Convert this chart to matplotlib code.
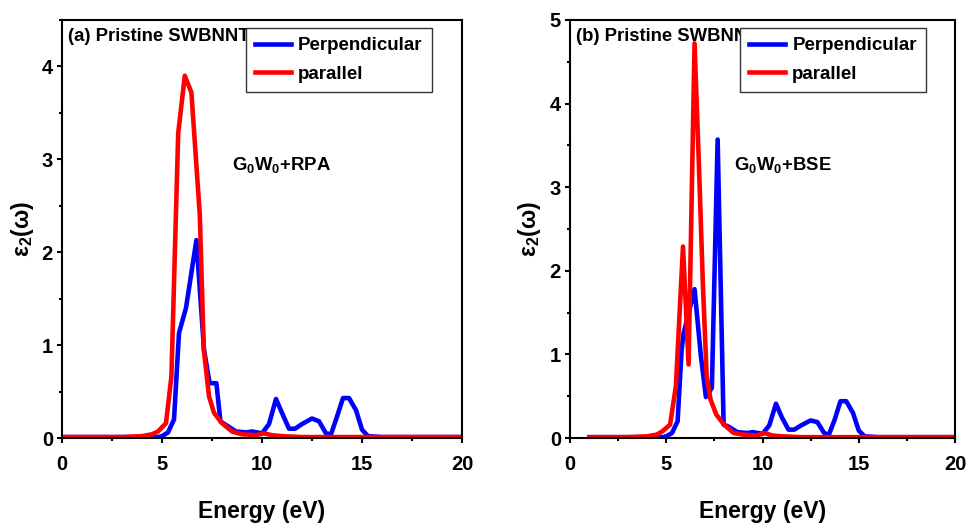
import matplotlib
matplotlib.use('Agg')
import matplotlib.pyplot as plt
from matplotlib.ticker import MultipleLocator

plt.rcParams['font.family'] = ['Liberation Sans', 'DejaVu Sans']
plt.rcParams['font.weight'] = 'bold'

# (a) G0W0+RPA
rpa_perp_e = [0, 2, 4, 4.8, 5.0, 5.3, 5.6, 5.85, 6.2, 6.72, 7.1, 7.38, 7.72, 7.92, 8.2, 8.7,
              9.2, 9.5, 10.0, 10.35, 10.7, 11.0, 11.35, 11.65, 12.0, 12.5, 12.85, 13.2,
              13.45, 13.75, 14.05, 14.35, 14.7, 15.0, 15.3, 16, 20]
rpa_perp = [0.01, 0.01, 0.01, 0.01, 0.02, 0.06, 0.2, 1.13, 1.4, 2.13, 0.95, 0.59, 0.59, 0.18,
            0.14, 0.07, 0.06, 0.07, 0.05, 0.15, 0.42, 0.27, 0.1, 0.1, 0.15, 0.21, 0.18, 0.05,
            0.04, 0.23, 0.43, 0.43, 0.3, 0.09, 0.02, 0.01, 0.01]
rpa_par_e = [0, 3, 4, 4.5, 4.8, 5.2, 5.47, 5.81, 6.14, 6.47, 6.89, 7.09, 7.35, 7.6, 8.0, 8.5,
             9.0, 9.7, 10.1, 10.5, 11, 12, 20]
rpa_par = [0.01, 0.01, 0.02, 0.04, 0.07, 0.16, 0.66, 3.28, 3.9, 3.72, 2.4, 0.95, 0.45, 0.27,
           0.16, 0.07, 0.04, 0.03, 0.05, 0.03, 0.02, 0.01, 0.01]

# (b) G0W0+BSE
bse_perp_e = [1.0, 3, 4.8, 5.0, 5.3, 5.59, 5.8, 5.9, 6.47, 6.8, 7.06, 7.37, 7.67, 7.98, 8.2,
              8.7, 9.2, 9.5, 10.0, 10.35, 10.7, 11.0, 11.35, 11.65, 12.0, 12.5, 12.85, 13.2,
              13.45, 13.75, 14.05, 14.35, 14.7, 15.0, 15.3, 16, 20]
bse_perp = [0.01, 0.01, 0.01, 0.02, 0.06, 0.2, 1.06, 1.25, 1.78, 0.98, 0.49, 0.6, 3.57, 0.16,
            0.14, 0.07, 0.06, 0.07, 0.05, 0.15, 0.41, 0.25, 0.1, 0.1, 0.15, 0.21, 0.19, 0.06,
            0.04, 0.22, 0.44, 0.44, 0.3, 0.09, 0.02, 0.01, 0.01]
bse_par_e = [1.0, 3, 4, 4.5, 4.8, 5.2, 5.5, 5.87, 6.16, 6.47, 6.7, 6.9, 7.1, 7.3, 7.6, 8.0,
             8.5, 9.0, 9.7, 10.1, 10.5, 11, 12, 20]
bse_par = [0.01, 0.01, 0.02, 0.04, 0.08, 0.16, 0.62, 2.29, 0.88, 4.72, 3.25, 1.86, 0.74, 0.46,
           0.28, 0.16, 0.06, 0.04, 0.03, 0.06, 0.03, 0.02, 0.01, 0.01]

W, H = 968, 523
fig = plt.figure(figsize=(W / 100, H / 100), dpi=100)


def make_panel(rect, ymax, perp_e, perp, par_e, par, tag, method, ylab_x):
    ax = fig.add_axes(rect)
    ax.plot(perp_e, perp, color='#0000ff', lw=3.3, label='Perpendicular')
    ax.plot(par_e, par, color='#ff0000', lw=3.3, label='parallel')
    ax.set_xlim(0, 20)
    ax.set_ylim(0, ymax)
    ax.xaxis.set_major_locator(MultipleLocator(5))
    ax.xaxis.set_minor_locator(MultipleLocator(2.5))
    ax.yaxis.set_major_locator(MultipleLocator(1))
    ax.yaxis.set_minor_locator(MultipleLocator(0.5))
    for s in ax.spines.values():
        s.set_linewidth(1.5)
    ax.tick_params(which='both', direction='out', width=1.5, labelsize=14.5)
    ax.tick_params(which='major', length=3.5)
    ax.tick_params(which='minor', length=2.5)
    ax.tick_params(axis='x', pad=9)
    ax.tick_params(axis='y', pad=3)
    for lb in ax.get_xticklabels() + ax.get_yticklabels():
        lb.set_fontweight('bold')
    ax.set_xlabel('Energy (eV)', fontsize=16.5, fontweight='bold')
    ax.xaxis.set_label_coords(0.5, -0.148)
    ax.set_ylabel(r'$\mathregular{ε_2(ω)}$', fontsize=16.5, fontweight='bold')
    ax.yaxis.set_label_coords(ylab_x, 0.5)
    ax.yaxis.label.set_va('center')
    ax.text(0.015, 0.982, tag, transform=ax.transAxes, fontsize=13.3,
            fontweight='bold', va='top', ha='left')
    ax.text(0.425, 0.653, r'G$_\mathregular{0}$W$_\mathregular{0}$+' + method,
            transform=ax.transAxes, fontsize=13.3, fontweight='bold', va='center', ha='left')
    leg = ax.legend(loc='upper right', bbox_to_anchor=(0.925, 0.981), borderaxespad=0,
                    fancybox=False, framealpha=1, edgecolor='#333333',
                    prop={'size': 13.5, 'weight': 'bold'}, handlelength=1.9,
                    handletextpad=0.4, labelspacing=0.6, borderpad=0.5)
    leg.get_frame().set_linewidth(1.0)
    return ax


make_panel([62 / W, 1 - 438 / H, 400 / W, 418 / H], 4.5,
           rpa_perp_e, rpa_perp, rpa_par_e, rpa_par,
           '(a) Pristine SWBNNT', 'RPA', -0.0975)
make_panel([570 / W, 1 - 438 / H, 385 / W, 418 / H], 5,
           bse_perp_e, bse_perp, bse_par_e, bse_par,
           '(b) Pristine SWBNNT', 'BSE', -0.106)

fig.savefig('out.png', dpi=100)
